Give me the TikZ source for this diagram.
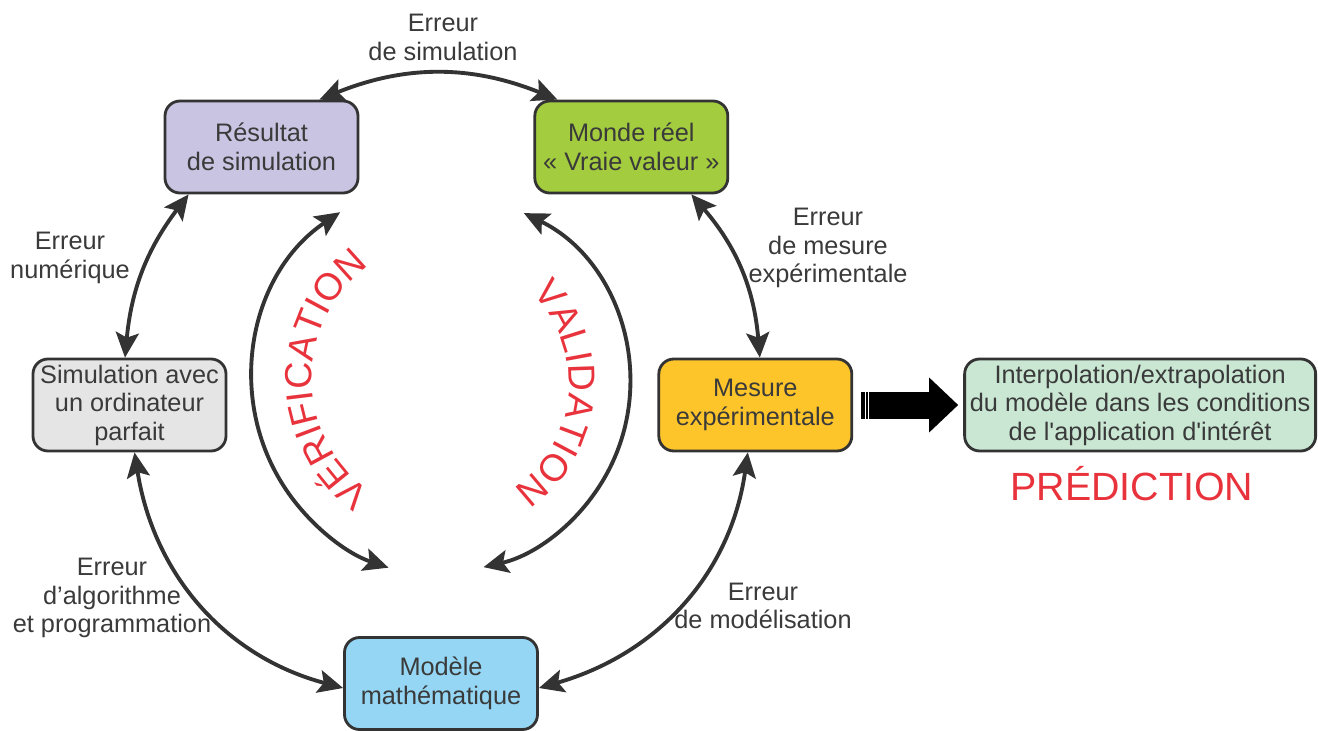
\documentclass[tikz,border=0pt]{standalone}
\usepackage{fontspec}
\setmainfont{Liberation Sans}
\usetikzlibrary{arrows.meta, positioning, decorations.text}
\tikzset{>={Stealth[length=0.5cm,width=0.46cm,inset=0.1cm]}}
\definecolor{linecol}{HTML}{333333}
\definecolor{textcol}{HTML}{3A3A3A}
\definecolor{redtxt}{HTML}{E8333C}
\definecolor{resfill}{HTML}{C9C4E2}
\definecolor{mondefill}{HTML}{A3CC3E}
\definecolor{simufill}{HTML}{E5E5E5}
\definecolor{mesurefill}{HTML}{FEC52A}
\definecolor{modelefill}{HTML}{94D6F4}
\definecolor{interpfill}{HTML}{C9E7D3}
\newcommand\boxfont{\fontsize{14.4}{16.2}\selectfont}
\newcommand\arcfont{\fontsize{21.5}{24}\selectfont}

\begin{document}
\begin{tikzpicture}[
      box/.style = {draw=linecol, line width=1.6pt, rounded corners=0.3cm, minimum width=3.86cm, minimum height=1.84cm, inner sep=2pt, align=center, text=textcol, font=\boxfont},
      lbl/.style = {align=center, text=textcol, font=\boxfont},
      arrow/.style = {<->, line width=2.2pt, draw=linecol},
      arctext/.style = {decorate, decoration={text along path, text align=center, text color=redtxt, text={|\arcfont|#1}}}
    ]
    \useasboundingbox (0,0) rectangle (26.36,14.6);

    \node[box, fill=resfill] (res) at (5.23,11.66) {Résultat\\de simulation};
    \node[box, fill=mondefill, right=3.48cm of res] (monde) {Monde réel\\« Vraie valeur »};
    \node[box, fill=simufill] (simu) at (2.59,6.5) {Simulation avec\\un ordinateur\\parfait};
    \node[box, fill=mesurefill, right=8.6cm of simu] (mesure) {Mesure\\expérimentale};
    \node[box, fill=interpfill, minimum width=7.02cm, right=2.2cm of mesure] (interp) {Interpolation/extrapolation\\du modèle dans les conditions\\de l\textquotesingle application d\textquotesingle intérêt};
    \node[box, fill=modelefill] (modele) at (8.82,0.93) {Modèle\\mathématique};

    \node[lbl] (esim) at (8.86,13.85) {Erreur\\de simulation};
    \node[lbl] (enum) at (1.40,9.44) {Erreur\\numérique};
    \node[lbl] (emes) at (16.56,9.64) {Erreur\\de mesure\\expérimentale};
    \node[lbl] (ealg) at (2.24,2.64) {Erreur\\d'algorithme\\et programmation};
    \node[lbl] (emod) at (15.26,2.48) {Erreur\\de modélisation};
    \node[text=redtxt, font=\fontsize{22.4}{26}\selectfont] (pred) at (22.64,4.92) {PRÉDICTION};

    \draw[arrow] ([xshift=-0.8cm]res.north east) to[bend left=22] ([xshift=0.48cm]monde.north west);
    \draw[arrow] ([xshift=0.5cm]res.south west) to[bend right=16] ([xshift=-0.09cm]simu.north);
    \draw[arrow] ([xshift=0.1cm]simu.south) to[out=-81,in=165] ([yshift=-0.09cm]modele.west);
    \draw[arrow] ([yshift=-0.09cm]modele.east) to[out=16,in=-98] ([xshift=-0.15cm]mesure.south);
    \draw[arrow] ([xshift=1.2cm]monde.south) to[bend left=18] ([xshift=0.09cm]mesure.north);

    % verification / validation loops
    \coordinate (vc) at (9.04,7.04);
    \coordinate (ac) at (8.82,6.94);
    \draw[arrow] ([shift={(124:4)}]vc) arc[start angle=124, end angle=251.5, radius=4];
    \draw[arrow] ([shift={(64:3.78)}]ac) arc[start angle=64, end angle=-77, radius=3.78];
    \path[arctext=VÉRIFICATION] ([shift={(245:2.8)}]vc) arc[start angle=245, end angle=116, radius=2.8];
    \path[arctext=VALIDATION] ([shift={(50:2.56)}]ac) arc[start angle=50, end angle=-61, radius=2.56];

    % prediction arrow
    \draw[line width=0.54cm, -{Triangle[length=0.58cm,width=1.06cm]}] ([xshift=0.16cm]mesure.east) -- ([xshift=-0.1cm]interp.west);
    \foreach \dx in {0.24,0.31}
      \draw[white, line width=0.6pt] ([xshift=\dx cm,yshift=-0.28cm]mesure.east) -- ++(0,0.56);

\end{tikzpicture}
\end{document}
